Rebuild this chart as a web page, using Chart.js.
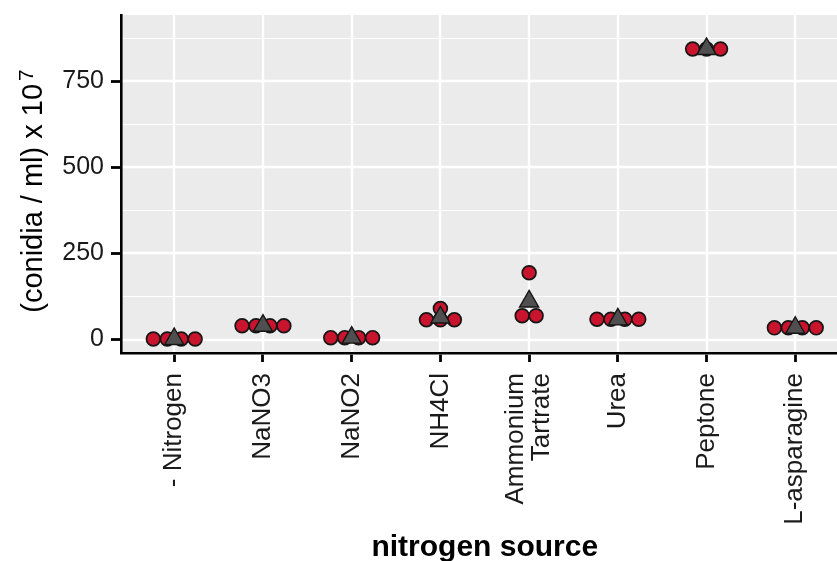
<!DOCTYPE html>
<html>
<head>
<meta charset="utf-8">
<script src="https://cdn.jsdelivr.net/npm/chart.js@4/dist/chart.umd.min.js"></script>
<style>
  html, body { margin: 0; padding: 0; background: #fff; overflow: hidden; }
  canvas { display: block; }
</style>
</head>
<body>
<canvas id="chart" width="837" height="561"></canvas>
<script>
// Nitrogen sources on the x axis (multi-line entries are stacked labels)
const CATEGORIES = ['- Nitrogen', 'NaNO3', 'NaNO2', 'NH4Cl', ['Ammonium', 'Tartrate'], 'Urea', 'Peptone', 'L-asparagine'];

// Replicate conidia counts, (conidia / ml) x 10^7
const NO_NITROGEN  = [0.5, 1, 2, 3];
const NANO3        = [35, 39, 42, 45];
const NANO2        = [2, 5, 7, 9];
const NH4CL        = [38, 52, 77, 90];
const AMM_TARTRATE = [62, 76, 194];
const UREA         = [50, 56, 60, 68];
const PEPTONE      = [835, 843, 852];
const L_ASPARAGINE = [28, 33, 36, 40];

const REPLICATES = [NO_NITROGEN, NANO3, NANO2, NH4CL, AMM_TARTRATE, UREA, PEPTONE, L_ASPARAGINE];

// Y axis ticks
const Y_TICKS = [0, 250, 500, 750];
const Y_MINOR = [125, 375, 625, 875];

const FONT = "'Liberation Sans', Arial, Helvetica, sans-serif";
const BIN_WIDTH = 40;   // dot-plot bin width in y units
const DOT_STEP = 0.157; // horizontal spacing of stacked dots, in category units

// Dot-plot style binning: values within one bin width are stacked side by side
function dotLayout(vals, catIndex) {
  const sorted = [...vals].sort((a, b) => a - b);
  const bins = [];
  let cur = null;
  for (const v of sorted) {
    if (!cur || v >= cur.start + BIN_WIDTH) { cur = { start: v, vals: [] }; bins.push(cur); }
    cur.vals.push(v);
  }
  const pts = [];
  for (const b of bins) {
    const center = (b.vals[0] + b.vals[b.vals.length - 1]) / 2;
    const n = b.vals.length;
    b.vals.forEach((v, k) => pts.push({ x: catIndex + (k - (n - 1) / 2) * DOT_STEP, y: center }));
  }
  return pts;
}

const dots = REPLICATES.flatMap((vals, i) => dotLayout(vals, i));
const means = REPLICATES.map((vals, i) => ({ x: i, y: vals.reduce((s, v) => s + v, 0) / vals.length }));

// Grey panel with white major/minor grid lines
const panelPlugin = {
  id: 'panel',
  beforeDraw(chart) {
    const { ctx, chartArea: a, scales: { x, y } } = chart;
    ctx.save();
    ctx.fillStyle = '#ebebeb';
    ctx.fillRect(a.left, a.top, a.right - a.left, a.bottom - a.top);
    ctx.strokeStyle = '#ffffff';
    ctx.lineWidth = 1.2;
    for (const v of Y_MINOR) {
      const py = Math.round(y.getPixelForValue(v)) + 0.5;
      ctx.beginPath(); ctx.moveTo(a.left, py); ctx.lineTo(a.right, py); ctx.stroke();
    }
    ctx.lineWidth = 2.4;
    for (const v of Y_TICKS) {
      const py = Math.round(y.getPixelForValue(v));
      ctx.beginPath(); ctx.moveTo(a.left, py); ctx.lineTo(a.right, py); ctx.stroke();
    }
    CATEGORIES.forEach((_, i) => {
      const px = Math.round(x.getPixelForValue(i));
      ctx.beginPath(); ctx.moveTo(px, a.top); ctx.lineTo(px, a.bottom); ctx.stroke();
    });
    ctx.restore();
  }
};

// Rotated category labels and axis titles
const textPlugin = {
  id: 'texts',
  afterDraw(chart) {
    const { ctx, chartArea: a, scales: { x } } = chart;
    ctx.save();
    ctx.fillStyle = '#1a1a1a';

    // category labels, reading bottom-to-top, ending just below the ticks
    const lh = 26;
    ctx.font = `26px ${FONT}`;
    ctx.textAlign = 'right';
    ctx.textBaseline = 'middle';
    CATEGORIES.forEach((lab, i) => {
      const lines = Array.isArray(lab) ? lab : [lab];
      const px = x.getPixelForValue(i);
      lines.forEach((line, j) => {
        const sx = px + (j - (lines.length - 1) / 2) * lh;
        ctx.save();
        ctx.translate(sx, a.bottom + 20);
        ctx.rotate(-Math.PI / 2);
        ctx.fillText(line, 0, 0);
        ctx.restore();
      });
    });

    // x axis title
    ctx.fillStyle = '#000';
    ctx.font = `bold 30px ${FONT}`;
    ctx.textAlign = 'center';
    ctx.textBaseline = 'alphabetic';
    ctx.fillText('nitrogen source', x.getPixelForValue(3.5), 556);

    // y axis title with superscript exponent
    const main = '(conidia / ml) x 10';
    const sup = '7';
    ctx.font = `29px ${FONT}`;
    const mainW = ctx.measureText(main).width;
    ctx.font = `21px ${FONT}`;
    const supW = ctx.measureText(sup).width;
    const gap = 3;
    const total = mainW + gap + supW;
    const cy = (a.top + a.bottom) / 2 + 7;
    ctx.translate(42, cy);
    ctx.rotate(-Math.PI / 2);
    ctx.textAlign = 'left';
    ctx.font = `29px ${FONT}`;
    ctx.fillText(main, -total / 2, 0);
    ctx.font = `21px ${FONT}`;
    ctx.fillText(sup, -total / 2 + mainW + gap, -9);
    ctx.restore();
  }
};

Chart.defaults.font.family = FONT;

new Chart(document.getElementById('chart').getContext('2d'), {
  type: 'scatter',
  data: {
    datasets: [
      {
        label: 'mean',
        data: means,
        pointStyle: 'triangle',
        pointRadius: 11,
        pointHoverRadius: 11,
        backgroundColor: '#4f4f4f',
        borderColor: '#151515',
        borderWidth: 1.4
      },
      {
        label: 'replicates',
        data: dots,
        pointStyle: 'circle',
        pointRadius: 6.9,
        pointHoverRadius: 6.9,
        backgroundColor: '#c8142d',
        borderColor: '#151515',
        borderWidth: 1.7
      }
    ]
  },
  options: {
    responsive: false,
    devicePixelRatio: 1,
    animation: false,
    events: [],
    layout: { autoPadding: false, padding: { top: 15, right: 0, left: 0, bottom: 0 } },
    plugins: { legend: { display: false }, tooltip: { enabled: false } },
    scales: {
      x: {
        type: 'linear',
        min: -0.6,
        max: 7.47,
        afterBuildTicks: s => { s.ticks = CATEGORIES.map((_, i) => ({ value: i })); },
        afterFit: s => { s.height = 208; s.paddingLeft = 0; s.paddingRight = 0; },
        grid: { drawOnChartArea: false, drawTicks: true, tickLength: 9, tickColor: '#000', tickWidth: 2.8 },
        border: { display: true, color: '#000', width: 2.6 },
        ticks: { display: false }
      },
      y: {
        type: 'linear',
        min: -39,
        max: 942,
        afterBuildTicks: s => { s.ticks = Y_TICKS.map(v => ({ value: v })); },
        afterFit: s => { s.width = 121; s.paddingTop = 0; s.paddingBottom = 0; },
        grid: { drawOnChartArea: false, drawTicks: true, tickLength: 10, tickColor: '#000', tickWidth: 2.8 },
        border: { display: true, color: '#000', width: 2.6 },
        ticks: { font: { size: 25 }, color: '#1a1a1a', padding: 7, callback: v => String(v) }
      }
    }
  },
  plugins: [panelPlugin, textPlugin]
});
</script>
</body>
</html>
